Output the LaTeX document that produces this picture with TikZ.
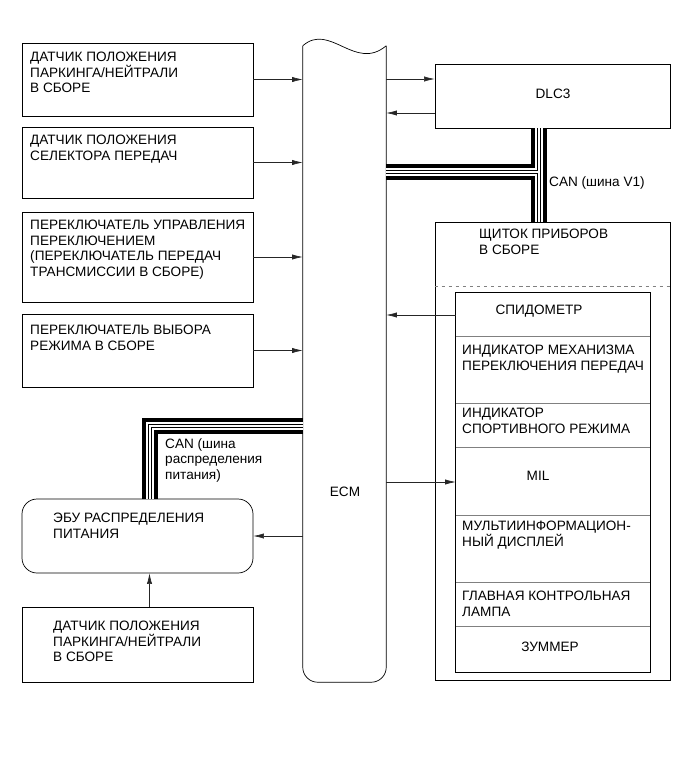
\documentclass[tikz,border=0pt]{standalone}
\usepackage{fontspec}
\setmainfont{Liberation Sans}
\usetikzlibrary{arrows.meta,positioning,fit,calc}

\begin{document}
\begin{tikzpicture}[x=0.03cm, y=-0.03cm]
	\tikzstyle{Box}    = [draw, line width=0.6pt, inner sep=0pt]
	\tikzstyle{Soft}   = [Box, rounded corners=0.45cm]
	\tikzstyle{Hidden} = [inner sep=0pt]
	\tikzstyle{Txt}    = [anchor=north west, align=left, inner sep=0pt, font=\fontsize{11.6}{13.3}\selectfont]
	\tikzstyle{Mid}    = [Txt, anchor=center, align=center]
	\tikzstyle{Arr}    = [-{Latex[length=9pt,width=4.4pt]}, line width=0.5pt, black!85]
	\tikzstyle{CAN}    = [line width=13pt, black, postaction={draw, white, line width=6.5pt}, postaction={draw, black, line width=3.2pt}, postaction={draw, white, line width=1.4pt}]
	\tikzstyle{Sep}    = [gray, line width=0.5pt]

	\useasboundingbox (0,0) rectangle (691,757);

	% left column
	\node (pnp1)  [Box, fit={(22,43) (253,116)}] {};
	\node (sel)   [Box, fit={(22,127) (253,198)}] {};
	\node (shsw)  [Box, fit={(22,212) (253,302)}] {};
	\node (mode)  [Box, fit={(22,314) (253,387)}] {};
	\node (pdecu) [Soft, fit={(22,499) (253,573)}] {};
	\node (pnp2)  [Box, fit={(22,607) (253,682)}] {};

	\node (pnp1t)  at (30,52)  [Txt] {ДАТЧИК ПОЛОЖЕНИЯ\\ПАРКИНГА/НЕЙТРАЛИ\\В СБОРЕ};
	\node (selt)   at (30,135) [Txt] {ДАТЧИК ПОЛОЖЕНИЯ\\СЕЛЕКТОРА ПЕРЕДАЧ};
	\node (shswt)  at (30,220) [Txt] {ПЕРЕКЛЮЧАТЕЛЬ УПРАВЛЕНИЯ\\ПЕРЕКЛЮЧЕНИЕМ\\(ПЕРЕКЛЮЧАТЕЛЬ ПЕРЕДАЧ\\ТРАНСМИССИИ В СБОРЕ)};
	\node (modet)  at (30,325) [Txt] {ПЕРЕКЛЮЧАТЕЛЬ ВЫБОРА\\РЕЖИМА В СБОРЕ};
	\node (pdecut) at (53,513) [Txt] {ЭБУ РАСПРЕДЕЛЕНИЯ\\ПИТАНИЯ};
	\node (pnp2t)  at (53,621) [Txt] {ДАТЧИК ПОЛОЖЕНИЯ\\ПАРКИНГА/НЕЙТРАЛИ\\В СБОРЕ};

	% ECM
	\node (ecm) [Hidden, fit={(303,46) (386,682)}] {};
	\node (ecmt) at (345,492) [Mid] {ECM};
	\draw [line width=0.6pt, rounded corners=0.45cm] (ecm.north east) -- (ecm.south east) -- (ecm.south west) -- (ecm.north west);
	\draw [line width=0.6pt] (ecm.north west) .. controls (330,22) and (355,72) .. (ecm.north east);

	% DLC3 and combination meter
	\node (dlc)  [Box, fit={(435,64) (670,128)}] {};
	\node (dlct) at (553,94) [Mid] {DLC3};
	\node (clus) [Box, fit={(435,222) (670,680)}] {};
	\node (clust) at (479,229) [Txt] {ЩИТОК ПРИБОРОВ\\В СБОРЕ};
	\coordinate (dash) at (0,286);
	\draw [Sep, dashed] (clus.west |- dash) -- (clus.east |- dash);

	\node (spd)  [Hidden, fit={(456,293) (650,337)}] {};
	\node (ind)  [Hidden, fit={(456,337) (650,404)}] {};
	\node (spt)  [Hidden, fit={(456,404) (650,448)}] {};
	\node (mil)  [Hidden, fit={(456,448) (650,516)}] {};
	\node (mfd)  [Hidden, fit={(456,516) (650,583)}] {};
	\node (lamp) [Hidden, fit={(456,583) (650,627)}] {};
	\node (buz)  [Hidden, fit={(456,627) (650,672)}] {};
	\draw [line width=0.6pt] (spd.north west) rectangle (buz.south east);
	\foreach \r in {ind,spt,mil,mfd,lamp,buz}
		\draw [Sep] (\r.north west) -- (\r.north east);

	\node (spdt)  at (539,311) [Mid] {СПИДОМЕТР};
	\node (indt)  at (462,345) [Txt] {ИНДИКАТОР МЕХАНИЗМА\\ПЕРЕКЛЮЧЕНИЯ ПЕРЕДАЧ};
	\node (sptt)  at (462,408) [Txt] {ИНДИКАТОР\\СПОРТИВНОГО РЕЖИМА};
	\node (milt)  at (538,476) [Mid] {MIL};
	\node (mfdt)  at (462,521) [Txt] {МУЛЬТИИНФОРМАЦИОН-\\НЫЙ ДИСПЛЕЙ};
	\node (lampt) at (462,591) [Txt] {ГЛАВНАЯ КОНТРОЛЬНАЯ\\ЛАМПА};
	\node (buzt)  at (550,647) [Mid] {ЗУММЕР};

	% CAN lines
	\coordinate (canv1) at (539,172);
	\draw [CAN] (ecm.east |- canv1) -- (canv1) (canv1 |- dlc.south) -- (canv1 |- clus.north);
	\node (canv1t) at (549,176) [Txt] {CAN (шина V1)};
	\coordinate (canpd) at (150,426);
	\draw [CAN] (canpd |- pdecu.north) -- (canpd) -- (canpd -| ecm.west);
	\node (canpdt) at (165,438) [Txt] {CAN (шина\\распределения\\питания)};

	% signals
	\draw [Arr] (pnp1.east) -- (pnp1.east -| ecm.west);
	\draw [Arr] (sel.east) -- (sel.east -| ecm.west);
	\draw [Arr] (shsw.east) -- (shsw.east -| ecm.west);
	\draw [Arr] (mode.east) -- (mode.east -| ecm.west);
	\draw [Arr] ($(ecm.east |- dlc.west)+(0,-17)$) -- ($(dlc.west)+(0,-17)$);
	\draw [Arr] ($(dlc.west)+(0,17)$) -- ($(ecm.east |- dlc.west)+(0,17)$);
	\draw [Arr] (spd.west) -- (spd.west -| ecm.east);
	\draw [Arr] (mil.west -| ecm.east) -- (mil.west);
	\draw [Arr] (pdecu.east -| ecm.west) -- (pdecu.east);
	\draw [Arr] ($(pnp2.north)+(12,0)$) -- ($(pdecu.south)+(12,0)$);
\end{tikzpicture}
\end{document}
